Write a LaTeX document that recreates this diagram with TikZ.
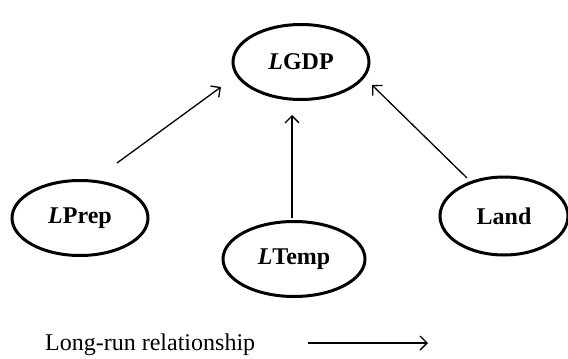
\documentclass[tikz,border=0pt]{standalone}
\usepackage{fontspec}
\setmainfont{Liberation Serif}
\usetikzlibrary{arrows.meta,shapes.geometric}
\begin{document}
\begin{tikzpicture}[x=1pt,y=-1pt,
  var/.style={ellipse,draw,line width=3pt,minimum width=#1,minimum height=75pt,inner sep=0pt,font=\fontsize{24}{28}\selectfont\bfseries},
  rel/.style={line width=1.3pt,-{Straight Barb[length=7pt,width=14pt,line width=1.3pt]}}]
\useasboundingbox (0,0) rectangle (568,359);
\node[var=136pt] (gdp) at (301,62) {\textit{L}GDP};
\node[var=136pt] (prep) at (80,218) {\textit{L}Prep};
\node[var=142pt] (temp) at (294,259) {\textit{L}Temp};
\node[var=128pt,minimum height=78pt] (land) at (504,216) {Land};
\coordinate (p1) at (117,163);
\coordinate (p2) at (221,87);
\coordinate (t1) at (292,218);
\coordinate (t2) at (292,115);
\coordinate (l1) at (467,178);
\coordinate (l2) at (372,85);
\draw[rel] (p1) -- (p2);
\draw[rel] (t1) -- (t2);
\draw[rel] (l1) -- (l2);
\node[anchor=base west,inner sep=0pt,font=\fontsize{24}{28}\selectfont] (leg) at (45,350) {Long-run relationship};
\coordinate (a1) at (308,343);
\coordinate (a2) at (428,343);
\draw[rel] (a1) -- (a2);
\end{tikzpicture}
\end{document}
